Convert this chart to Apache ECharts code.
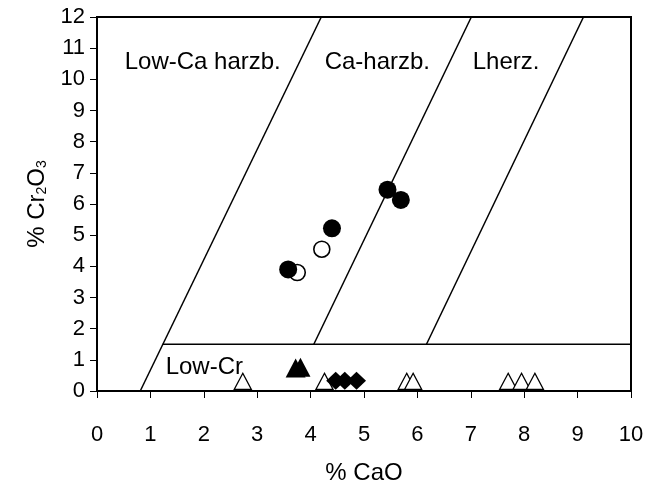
<!DOCTYPE html>
<html>
<head>
<meta charset="utf-8">
<script src="https://cdn.jsdelivr.net/npm/echarts@6/dist/echarts.min.js"></script>
<style>
html,body{margin:0;padding:0;background:#fff;}
#chart{width:647px;height:484px;}
</style>
</head>
<body>
<div id="chart"></div>
<script>
// ---- data ----
const xTicks = [0,1,2,3,4,5,6,7,8,9,10];
const yTicks = [0,1,2,3,4,5,6,7,8,9,10,11,12];

const filledCircles = [[3.58,3.90],[4.40,5.22],[5.44,6.46],[5.69,6.13]];
const openCircles = [[3.75,3.80],[4.21,4.55]];
const filledTriangles = [[3.72,0.74],[3.81,0.76]];
const filledDiamonds = [[4.47,0.33],[4.64,0.33],[4.86,0.33]];
const openTriangles = [[2.73,0.31],[4.26,0.31],[5.80,0.31],[5.92,0.31],[7.70,0.31],[7.95,0.31],[8.20,0.31]];

const boundaryLowCaCa = [[0.81,0],[4.20,12]];
const boundaryCaLherz = [[4.06,1.5],[7.01,12]];
const boundaryLherzRight = [[6.17,1.5],[9.11,12]];
const boundaryLowCr = [[1.23,1.5],[10,1.5]];

const fieldNames = ['Low-Ca harzb.','Ca-harzb.','Lherz.','Low-Cr'];
const fieldPos = [[1.98,10.53],[5.25,10.53],[7.66,10.53],[2.01,0.77]];

// ---- chart ----
const chart = echarts.init(document.getElementById('chart'), null, {renderer:'canvas'});
const FONT = 'Liberation Sans, Arial, sans-serif';

function lineSeries(d){
  return {type:'line', data:d, symbol:'none', silent:true,
    lineStyle:{color:'#000', width:1.5, opacity:1}, z:2, animation:false};
}

const option = {
  animation:false,
  backgroundColor:'#fff',
  grid:{left:97, right:16, top:17, bottom:93, containLabel:false, outerBoundsMode:'none',
    show:true, borderColor:'#000', borderWidth:2, backgroundColor:'transparent'},
  xAxis:{
    type:'value', min:0, max:10, interval:1,
    name:'% CaO', nameLocation:'middle', nameGap:70,
    nameTextStyle:{fontFamily:FONT, fontSize:24, color:'#000'},
    axisLine:{show:true, onZero:false, lineStyle:{color:'#000', width:2}},
    axisTick:{show:true, length:7, lineStyle:{color:'#000', width:1}},
    axisLabel:{fontFamily:FONT, fontSize:22, color:'#000', margin:33,
      formatter:v=>xTicks.includes(v)?String(v):''},
    splitLine:{show:false}
  },
  yAxis:{
    type:'value', min:0, max:12, interval:1,
    name:'% Cr{s|2}O{s|3}', nameLocation:'middle', nameGap:47,
    nameTextStyle:{fontFamily:FONT, fontSize:24, color:'#000',
      rich:{s:{fontFamily:FONT, fontSize:14, color:'#000', verticalAlign:'bottom'}}},
    axisLine:{show:true, onZero:false, lineStyle:{color:'#000', width:2}},
    axisTick:{show:true, length:7, lineStyle:{color:'#000', width:1}},
    axisLabel:{fontFamily:FONT, fontSize:22, color:'#000', margin:12,
      formatter:v=>yTicks.includes(v)?String(v):''},
    splitLine:{show:false}
  },
  series:[
    lineSeries(boundaryLowCaCa),
    lineSeries(boundaryCaLherz),
    lineSeries(boundaryLherzRight),
    lineSeries(boundaryLowCr),
    {type:'scatter', data:fieldPos.map((p,i)=>({value:p, name:fieldNames[i]})),
      symbolSize:0, silent:true, z:3, itemStyle:{opacity:1},
      label:{show:true, position:'inside', formatter:p=>p.name,
        fontFamily:FONT, fontSize:24, color:'#000', opacity:1}},
    {type:'scatter', data:openTriangles, symbol:'triangle', symbolSize:[17,16], z:4,
      itemStyle:{color:'#fff', borderColor:'#000', borderWidth:1.3, opacity:1}},
    {type:'scatter', data:filledTriangles, symbol:'triangle', symbolSize:[20,19], z:5,
      itemStyle:{color:'#000', borderColor:'#000', borderWidth:0, opacity:1}},
    {type:'scatter', data:filledDiamonds, symbol:'diamond', symbolSize:[19,18], z:5,
      itemStyle:{color:'#000', borderColor:'#000', borderWidth:0, opacity:1}},
    {type:'scatter', data:openCircles, symbol:'circle', symbolSize:16, z:5,
      itemStyle:{color:'#fff', borderColor:'#000', borderWidth:1.6, opacity:1}},
    {type:'scatter', data:filledCircles, symbol:'circle', symbolSize:18, z:6,
      itemStyle:{color:'#000', borderColor:'#000', borderWidth:0, opacity:1}}
  ]
};
chart.setOption(option);
</script>
</body>
</html>
